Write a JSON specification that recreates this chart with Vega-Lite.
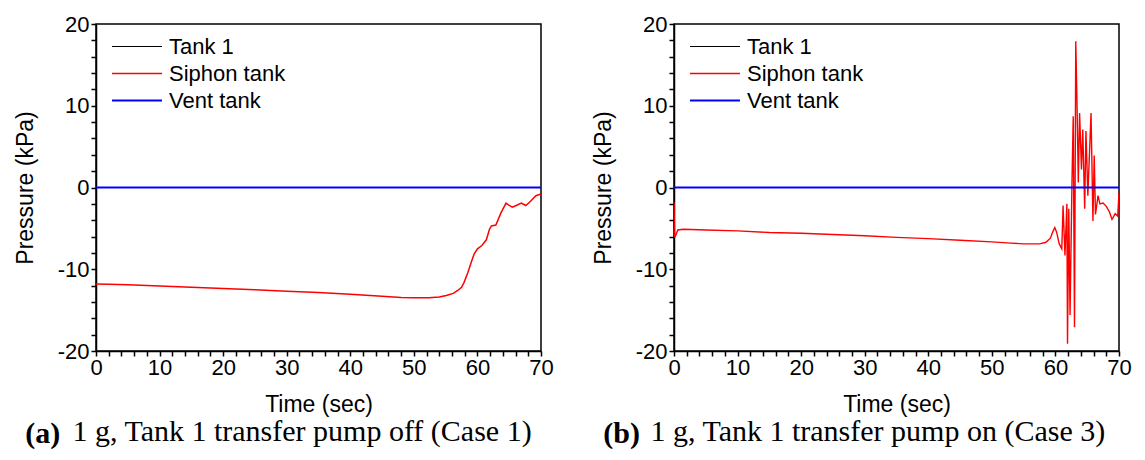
{
  "$schema": "https://vega.github.io/schema/vega-lite/v6.json",
  "background": "white",
  "padding": {"left": 13, "top": 12, "right": 10, "bottom": 5},
  "datasets": {
    "a": [
      {"t": 0, "p": 0, "series": "Tank 1"}, {"t": 70, "p": 0, "series": "Tank 1"},
      {"t": 0, "p": -11.8, "series": "Siphon tank"}, {"t": 2, "p": -11.85, "series": "Siphon tank"},
      {"t": 5, "p": -11.9, "series": "Siphon tank"}, {"t": 10, "p": -12.05, "series": "Siphon tank"},
      {"t": 15, "p": -12.2, "series": "Siphon tank"}, {"t": 20, "p": -12.35, "series": "Siphon tank"},
      {"t": 25, "p": -12.5, "series": "Siphon tank"}, {"t": 30, "p": -12.7, "series": "Siphon tank"},
      {"t": 35, "p": -12.85, "series": "Siphon tank"}, {"t": 40, "p": -13.05, "series": "Siphon tank"},
      {"t": 45, "p": -13.3, "series": "Siphon tank"}, {"t": 48, "p": -13.45, "series": "Siphon tank"},
      {"t": 50, "p": -13.5, "series": "Siphon tank"}, {"t": 52.4, "p": -13.5, "series": "Siphon tank"},
      {"t": 54, "p": -13.4, "series": "Siphon tank"}, {"t": 55.1, "p": -13.2, "series": "Siphon tank"},
      {"t": 56.2, "p": -12.95, "series": "Siphon tank"}, {"t": 56.9, "p": -12.6, "series": "Siphon tank"},
      {"t": 57.5, "p": -12.2, "series": "Siphon tank"}, {"t": 57.9, "p": -11.6, "series": "Siphon tank"},
      {"t": 58.5, "p": -10.4, "series": "Siphon tank"}, {"t": 59.0, "p": -9.2, "series": "Siphon tank"},
      {"t": 59.5, "p": -8.1, "series": "Siphon tank"}, {"t": 60.0, "p": -7.5, "series": "Siphon tank"},
      {"t": 60.7, "p": -7.1, "series": "Siphon tank"}, {"t": 61.4, "p": -6.4, "series": "Siphon tank"},
      {"t": 61.9, "p": -5.1, "series": "Siphon tank"}, {"t": 62.2, "p": -4.7, "series": "Siphon tank"},
      {"t": 62.9, "p": -4.6, "series": "Siphon tank"}, {"t": 63.7, "p": -3.1, "series": "Siphon tank"},
      {"t": 64.5, "p": -1.9, "series": "Siphon tank"}, {"t": 65.0, "p": -2.2, "series": "Siphon tank"},
      {"t": 65.5, "p": -2.4, "series": "Siphon tank"}, {"t": 66.1, "p": -2.2, "series": "Siphon tank"},
      {"t": 66.9, "p": -1.9, "series": "Siphon tank"}, {"t": 67.6, "p": -2.2, "series": "Siphon tank"},
      {"t": 68.2, "p": -1.8, "series": "Siphon tank"}, {"t": 69.2, "p": -1.0, "series": "Siphon tank"},
      {"t": 70, "p": -0.8, "series": "Siphon tank"},
      {"t": 0, "p": 0, "series": "Vent tank"}, {"t": 70, "p": 0, "series": "Vent tank"}
    ],
    "b": [
      {"t": 0, "p": 0, "series": "Tank 1"}, {"t": 70, "p": 0, "series": "Tank 1"},
      {"t": 0, "p": -1.8, "series": "Siphon tank"}, {"t": 0.1, "p": -6.1, "series": "Siphon tank"},
      {"t": 0.3, "p": -5.8, "series": "Siphon tank"}, {"t": 0.6, "p": -5.2, "series": "Siphon tank"},
      {"t": 1.5, "p": -5.1, "series": "Siphon tank"}, {"t": 5, "p": -5.2, "series": "Siphon tank"},
      {"t": 10, "p": -5.3, "series": "Siphon tank"}, {"t": 15, "p": -5.5, "series": "Siphon tank"},
      {"t": 20, "p": -5.6, "series": "Siphon tank"}, {"t": 25, "p": -5.75, "series": "Siphon tank"},
      {"t": 30, "p": -5.9, "series": "Siphon tank"}, {"t": 35, "p": -6.1, "series": "Siphon tank"},
      {"t": 40, "p": -6.25, "series": "Siphon tank"}, {"t": 45, "p": -6.45, "series": "Siphon tank"},
      {"t": 50, "p": -6.65, "series": "Siphon tank"}, {"t": 53, "p": -6.8, "series": "Siphon tank"},
      {"t": 55, "p": -6.9, "series": "Siphon tank"}, {"t": 57.5, "p": -6.9, "series": "Siphon tank"},
      {"t": 58.5, "p": -6.7, "series": "Siphon tank"}, {"t": 59.2, "p": -6.2, "series": "Siphon tank"},
      {"t": 59.6, "p": -5.4, "series": "Siphon tank"}, {"t": 59.9, "p": -4.9, "series": "Siphon tank"},
      {"t": 60.2, "p": -5.5, "series": "Siphon tank"}, {"t": 60.6, "p": -6.9, "series": "Siphon tank"},
      {"t": 61.0, "p": -7.5, "series": "Siphon tank"}, {"t": 61.2, "p": -2.2, "series": "Siphon tank"},
      {"t": 61.5, "p": -8.3, "series": "Siphon tank"}, {"t": 61.8, "p": -2.0, "series": "Siphon tank"},
      {"t": 61.9, "p": -19.1, "series": "Siphon tank"}, {"t": 62.1, "p": -2.6, "series": "Siphon tank"},
      {"t": 62.3, "p": -15.6, "series": "Siphon tank"}, {"t": 62.6, "p": 0.5, "series": "Siphon tank"},
      {"t": 62.8, "p": 8.7, "series": "Siphon tank"}, {"t": 63.0, "p": -17.1, "series": "Siphon tank"},
      {"t": 63.2, "p": 17.9, "series": "Siphon tank"}, {"t": 63.4, "p": 10.0, "series": "Siphon tank"},
      {"t": 63.6, "p": 0.6, "series": "Siphon tank"}, {"t": 63.8, "p": 9.1, "series": "Siphon tank"},
      {"t": 64.1, "p": 2.2, "series": "Siphon tank"}, {"t": 64.3, "p": 7.1, "series": "Siphon tank"},
      {"t": 64.6, "p": -2.6, "series": "Siphon tank"}, {"t": 64.8, "p": 6.9, "series": "Siphon tank"},
      {"t": 65.1, "p": -1.0, "series": "Siphon tank"}, {"t": 65.6, "p": 9.1, "series": "Siphon tank"},
      {"t": 65.9, "p": -4.1, "series": "Siphon tank"}, {"t": 66.1, "p": 3.9, "series": "Siphon tank"},
      {"t": 66.3, "p": -3.3, "series": "Siphon tank"}, {"t": 66.7, "p": -1.0, "series": "Siphon tank"},
      {"t": 67.0, "p": -2.0, "series": "Siphon tank"}, {"t": 67.5, "p": -1.9, "series": "Siphon tank"},
      {"t": 68.0, "p": -2.3, "series": "Siphon tank"}, {"t": 68.5, "p": -3.0, "series": "Siphon tank"},
      {"t": 68.9, "p": -3.9, "series": "Siphon tank"}, {"t": 69.4, "p": -3.2, "series": "Siphon tank"},
      {"t": 69.8, "p": -3.5, "series": "Siphon tank"}, {"t": 70, "p": -0.6, "series": "Siphon tank"},
      {"t": 0, "p": 0, "series": "Vent tank"}, {"t": 70, "p": 0, "series": "Vent tank"}
    ]
  },
  "hconcat": [
    {
      "vconcat": [
        {
          "width": 445, "height": 327,
          "data": {"name": "a"},
          "mark": {"type": "line", "clip": true},
          "encoding": {
            "x": {"field": "t", "type": "quantitative", "scale": {"domain": [0, 70], "nice": false},
              "axis": {"title": "Time (sec)", "values": [0,2,4,6,8,10,12,14,16,18,20,22,24,26,28,30,32,34,36,38,40,42,44,46,48,50,52,54,56,58,60,62,64,66,68,70],
                "labelExpr": "datum.value % 10 === 0 ? '' + datum.value : ''", "ticks": true, "tickSize": 5, "tickColor": "black", "tickWidth": 1.5, "tickOpacity": 1,
                "grid": false,
                "labelOverlap": false, "labelFlush": false, "labelPadding": 1, "domainColor": "black", "domainWidth": 1.5,
                "labelFont": "Liberation Sans", "labelFontSize": 22, "labelColor": "black",
                "titleFont": "Liberation Sans", "titleFontSize": 23, "titleFontWeight": "normal", "titleColor": "black", "titlePadding": 15}},
            "y": {"field": "p", "type": "quantitative", "scale": {"domain": [-20, 20], "nice": false},
              "axis": {"title": "Pressure (kPa)", "values": [-20,-18,-16,-14,-12,-10,-8,-6,-4,-2,0,2,4,6,8,10,12,14,16,18,20],
                "labelExpr": "datum.value % 10 === 0 ? '' + datum.value : ''", "ticks": true, "tickSize": 5, "tickColor": "black", "tickWidth": 1.5, "tickOpacity": 1,
                "grid": false,
                "labelOverlap": false, "labelFlush": false, "labelPadding": 2, "domainColor": "black", "domainWidth": 1.5,
                "labelFont": "Liberation Sans", "labelFontSize": 22, "labelColor": "black",
                "titleFont": "Liberation Sans", "titleFontSize": 23, "titleFontWeight": "normal", "titleColor": "black", "titlePadding": 20}},
            "color": {"field": "series", "type": "nominal",
              "scale": {"domain": ["Tank 1", "Siphon tank", "Vent tank"], "range": ["#000000", "#ff0000", "#0000ff"]},
              "legend": {"orient": "top-left", "title": null, "offset": 9, "padding": 0, "symbolType": "stroke", "symbolSize": 2500, "symbolStrokeWidth": 2, "symbolOffset": 6,
                "labelFont": "Liberation Sans", "labelFontSize": 22, "labelColor": "black", "labelOffset": 6, "clipHeight": 27, "rowPadding": 0, "labelLimit": 300,
                "encode": {"symbols": {"update": {"strokeWidth": {"value": 2}}}}}},
            "strokeWidth": {"field": "series", "type": "nominal",
              "scale": {"domain": ["Tank 1", "Siphon tank", "Vent tank"], "range": [1, 2, 2]}, "legend": null}
          },
          "title": {"text": "(a)", "orient": "bottom", "anchor": "start", "frame": "bounds", "font": "Liberation Serif", "fontSize": 30, "fontWeight": "bold", "color": "black", "dx": 11, "offset": 3}
        }
      ],
      "resolve": {"scale": {"color": "independent", "strokeWidth": "independent"}, "legend": {"color": "independent"}},
      "title": {"text": "1 g, Tank 1 transfer pump off (Case 1)", "orient": "bottom", "anchor": "start", "frame": "bounds", "font": "Liberation Serif", "fontSize": 30, "fontWeight": "normal", "color": "black", "dx": 59, "dy": -37}
    },
    {
      "vconcat": [
        {
          "width": 445, "height": 327,
          "data": {"name": "b"},
          "mark": {"type": "line", "clip": true},
          "encoding": {
            "x": {"field": "t", "type": "quantitative", "scale": {"domain": [0, 70], "nice": false},
              "axis": {"title": "Time (sec)", "values": [0,2,4,6,8,10,12,14,16,18,20,22,24,26,28,30,32,34,36,38,40,42,44,46,48,50,52,54,56,58,60,62,64,66,68,70],
                "labelExpr": "datum.value % 10 === 0 ? '' + datum.value : ''", "ticks": true, "tickSize": 5, "tickColor": "black", "tickWidth": 1.5, "tickOpacity": 1,
                "grid": false,
                "labelOverlap": false, "labelFlush": false, "labelPadding": 1, "domainColor": "black", "domainWidth": 1.5,
                "labelFont": "Liberation Sans", "labelFontSize": 22, "labelColor": "black",
                "titleFont": "Liberation Sans", "titleFontSize": 23, "titleFontWeight": "normal", "titleColor": "black", "titlePadding": 15}},
            "y": {"field": "p", "type": "quantitative", "scale": {"domain": [-20, 20], "nice": false},
              "axis": {"title": "Pressure (kPa)", "values": [-20,-18,-16,-14,-12,-10,-8,-6,-4,-2,0,2,4,6,8,10,12,14,16,18,20],
                "labelExpr": "datum.value % 10 === 0 ? '' + datum.value : ''", "ticks": true, "tickSize": 5, "tickColor": "black", "tickWidth": 1.5, "tickOpacity": 1,
                "grid": false,
                "labelOverlap": false, "labelFlush": false, "labelPadding": 2, "domainColor": "black", "domainWidth": 1.5,
                "labelFont": "Liberation Sans", "labelFontSize": 22, "labelColor": "black",
                "titleFont": "Liberation Sans", "titleFontSize": 23, "titleFontWeight": "normal", "titleColor": "black", "titlePadding": 20}},
            "color": {"field": "series", "type": "nominal",
              "scale": {"domain": ["Tank 1", "Siphon tank", "Vent tank"], "range": ["#000000", "#ff0000", "#0000ff"]},
              "legend": {"orient": "top-left", "title": null, "offset": 9, "padding": 0, "symbolType": "stroke", "symbolSize": 2500, "symbolStrokeWidth": 2.5, "symbolOffset": 6,
                "labelFont": "Liberation Sans", "labelFontSize": 22, "labelColor": "black", "labelOffset": 6, "clipHeight": 27, "rowPadding": 0, "labelLimit": 300,
                "encode": {"symbols": {"update": {"strokeWidth": {"value": 2.5}}}}}},
            "strokeWidth": {"field": "series", "type": "nominal",
              "scale": {"domain": ["Tank 1", "Siphon tank", "Vent tank"], "range": [1, 1.8, 3]}, "legend": null}
          },
          "title": {"text": "(b)", "orient": "bottom", "anchor": "start", "frame": "bounds", "font": "Liberation Serif", "fontSize": 30, "fontWeight": "bold", "color": "black", "dx": 11, "offset": 3}
        }
      ],
      "resolve": {"scale": {"color": "independent", "strokeWidth": "independent"}, "legend": {"color": "independent"}},
      "title": {"text": "1 g, Tank 1 transfer pump on (Case 3)", "orient": "bottom", "anchor": "start", "frame": "bounds", "font": "Liberation Serif", "fontSize": 30, "fontWeight": "normal", "color": "black", "dx": 59, "dy": -37}
    }
  ],
  "spacing": 37,
  "resolve": {"scale": {"color": "independent", "strokeWidth": "independent"}, "legend": {"color": "independent"}},
  "config": {"view": {"stroke": "black", "strokeWidth": 1.5}}
}
